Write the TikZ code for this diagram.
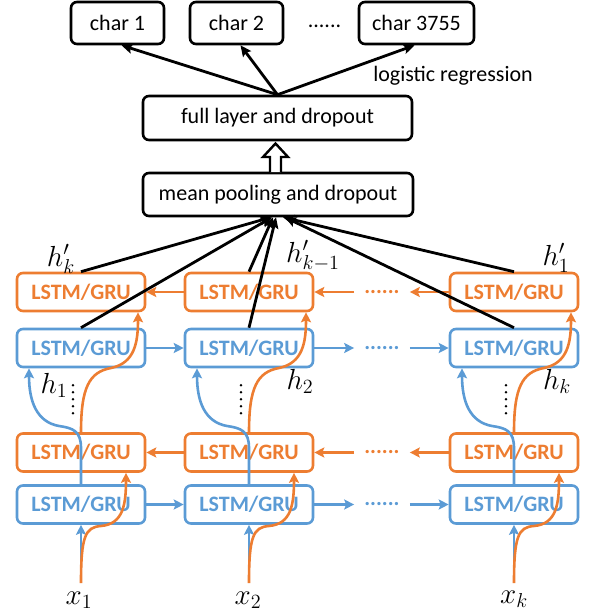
\documentclass[tikz,border=0pt]{standalone}
\usepackage[no-math]{fontspec}
\setmainfont{Carlito}
\usetikzlibrary{arrows.meta,calc}
\definecolor{lstmorange}{RGB}{237,125,49}
\definecolor{lstmblue}{RGB}{91,155,213}
\newcommand{\biglab}[1]{\scalebox{1.4}{$#1$}}
\begin{document}
\begin{tikzpicture}[x=1pt,y=-1pt,
  txt/.style={font=\fontsize{22}{26}\selectfont},
  plainbox/.style={draw=black, line width=2.6pt, rounded corners=6pt, inner sep=0pt, txt},
  cell/.style={draw, line width=2.6pt, rounded corners=6pt, minimum width=128pt,
    minimum height=38pt, inner sep=0pt, font=\fontsize{22}{26}\selectfont\bfseries},
  fwd/.style={cell, draw=lstmblue, text=lstmblue},
  bwd/.style={cell, draw=lstmorange, text=lstmorange},
  mlab/.style={font=\fontsize{20.74}{25}\selectfont, inner sep=0pt},
  blk/.style={draw=black, line width=2.8pt, -{Stealth[length=11pt,width=10pt,inset=2pt]}},
  oarr/.style={draw=lstmorange, line width=2.6pt, -{Stealth[length=10pt,width=10pt,inset=2pt]}},
  barr/.style={draw=lstmblue, line width=2.6pt, -{Stealth[length=10pt,width=10pt,inset=2pt]}},
  hdots/.style={inner xsep=10pt, inner ysep=0pt, font=\fontsize{22}{26}\selectfont\bfseries},
  vdots/.style={draw=black, line width=2.8pt, line cap=round, dash pattern=on 0pt off 7pt}]
\useasboundingbox (0,0) rectangle (589,616);

% output classes
\node[plainbox, minimum width=93pt, minimum height=42pt] (c1) at (117.5,23) {char 1};
\node[plainbox, minimum width=93pt, minimum height=42pt] (c2) at (236.5,23) {char 2};
\node[txt, anchor=base, inner sep=0pt] (cdots) at (324.5,27) {......};
\node[plainbox, minimum width=115pt, minimum height=42pt] (c3) at (416.5,23) {char 3755};
\node[txt, inner sep=0pt] (lr) at (453,76) {logistic regression};

% dense layer and pooling
\node[plainbox, minimum width=269pt, minimum height=44pt] (fl) at (277.5,118) {full layer and dropout};
\node[plainbox, minimum width=270pt, minimum height=43pt] (mp) at (278,194.5) {mean pooling and dropout};

\draw[blk] (fl.north) -- ($(c1.south)+(4,0)$);
\draw[blk] (fl.north) -- ($(c2.south)+(4,0)$);
\draw[blk] (fl.north) -- ($(c3.south)+(-2,0)$);

% hollow arrow between pooling and dense layer
\draw[line width=2.4pt, fill=white, line join=miter]
  (270,172) -- (270,157) -- (263,157) -- (275.5,143.5) -- (288,157) -- (281,157) -- (281,172);

% recurrent cells, one column per time step
\foreach \c/\cx in {1/81,2/249,3/514} {
  \node[bwd] (o\c) at (\cx,292) {LSTM/GRU};
  \node[fwd] (b\c) at (\cx,348) {LSTM/GRU};
  \node[bwd] (lo\c) at (\cx,452.5) {LSTM/GRU};
  \node[fwd] (lb\c) at (\cx,504.5) {LSTM/GRU};
  \coordinate (in\c) at (\cx,583);
}

% inputs
\node[mlab, anchor=base] (x1) at (79,604) {\biglab{x_1}};
\node[mlab, anchor=base] (x2) at (248,604) {\biglab{x_2}};
\node[mlab, anchor=base] (xk) at (514,603) {\biglab{x_k}};

% hidden state labels
\node[mlab, anchor=base] (h1) at (54,393) {\biglab{h_1}};
\node[mlab, anchor=base] (h2) at (300,389) {\biglab{h_2}};
\node[mlab, anchor=base] (hk) at (557,389) {\biglab{h_k}};
\node[mlab, anchor=base] (hpk) at (61,266) {\biglab{h'_k}};
\node[mlab, anchor=base] (hpkm) at (313,262) {\biglab{h'_{k-1}}};
\node[mlab, anchor=base] (hp1) at (556,265) {\biglab{h'_1}};

% horizontal recurrences
\draw[oarr] (o2.west) -- (o1.east);
\node[hdots, text=lstmorange] (od1) at (382,292) {......};
\draw[oarr] (o3.west) -- (od1.east);
\draw[oarr] (od1.west) -- (o2.east);

\draw[barr] (b1.east) -- (b2.west);
\node[hdots, text=lstmblue] (bd1) at (382,348) {......};
\draw[barr] (b2.east) -- (bd1.west);
\draw[barr] (bd1.east) -- (b3.west);

\draw[oarr] (lo2.west) -- (lo1.east);
\node[hdots, text=lstmorange] (od2) at (382,452.5) {......};
\draw[oarr] (lo3.west) -- (od2.east);
\draw[oarr] (od2.west) -- (lo2.east);

\draw[barr] (lb1.east) -- (lb2.west);
\node[hdots, text=lstmblue] (bd2) at (382,504.5) {......};
\draw[barr] (lb2.east) -- (bd2.west);
\draw[barr] (bd2.east) -- (lb3.west);

% vertical stacking inside each column
\foreach \c/\cx in {1/81,2/249,3/514} {
  \draw[barr] (in\c) -- (lb\c.south);
  \draw[oarr] (in\c) .. controls (\cx,537) and (\cx+4,527) .. (\cx+20,526)
     .. controls (\cx+42,524) and (\cx+45,505) .. ($(lo\c.south)+(45,0)$);
  \draw[barr] (lb\c.north) -- (\cx,448) .. controls (\cx,431) and (\cx-8,428) .. (\cx-22,426)
     .. controls (\cx-44,422) and (\cx-52,402) .. ($(b\c.south)+(-52,0)$);
  \draw[oarr] (lo\c.north) .. controls (\cx,388) and (\cx+8,372) .. (\cx+30,368)
     .. controls (\cx+54,363) and (\cx+57,342) .. ($(o\c.south)+(57,0)$);
  \draw[vdots] ($(b\c.south)+(-8,17)$) -- ($(lo\c.north)+(-8,-15)$);
}

% top states into pooling
\draw[blk] (o1.north) -- ($(mp.south)+(-7,0)$);
\draw[blk] (b1.north) -- ($(mp.south)+(-6,0)$);
\draw[blk] (o2.north) -- ($(mp.south)+(-5,0)$);
\draw[blk] (b2.north) -- ($(mp.south)+(-2,0)$);
\draw[blk] (o3.north) -- ($(mp.south)+(5,0)$);
\draw[blk] (b3.north) -- ($(mp.south)+(7,0)$);
\end{tikzpicture}
\end{document}
